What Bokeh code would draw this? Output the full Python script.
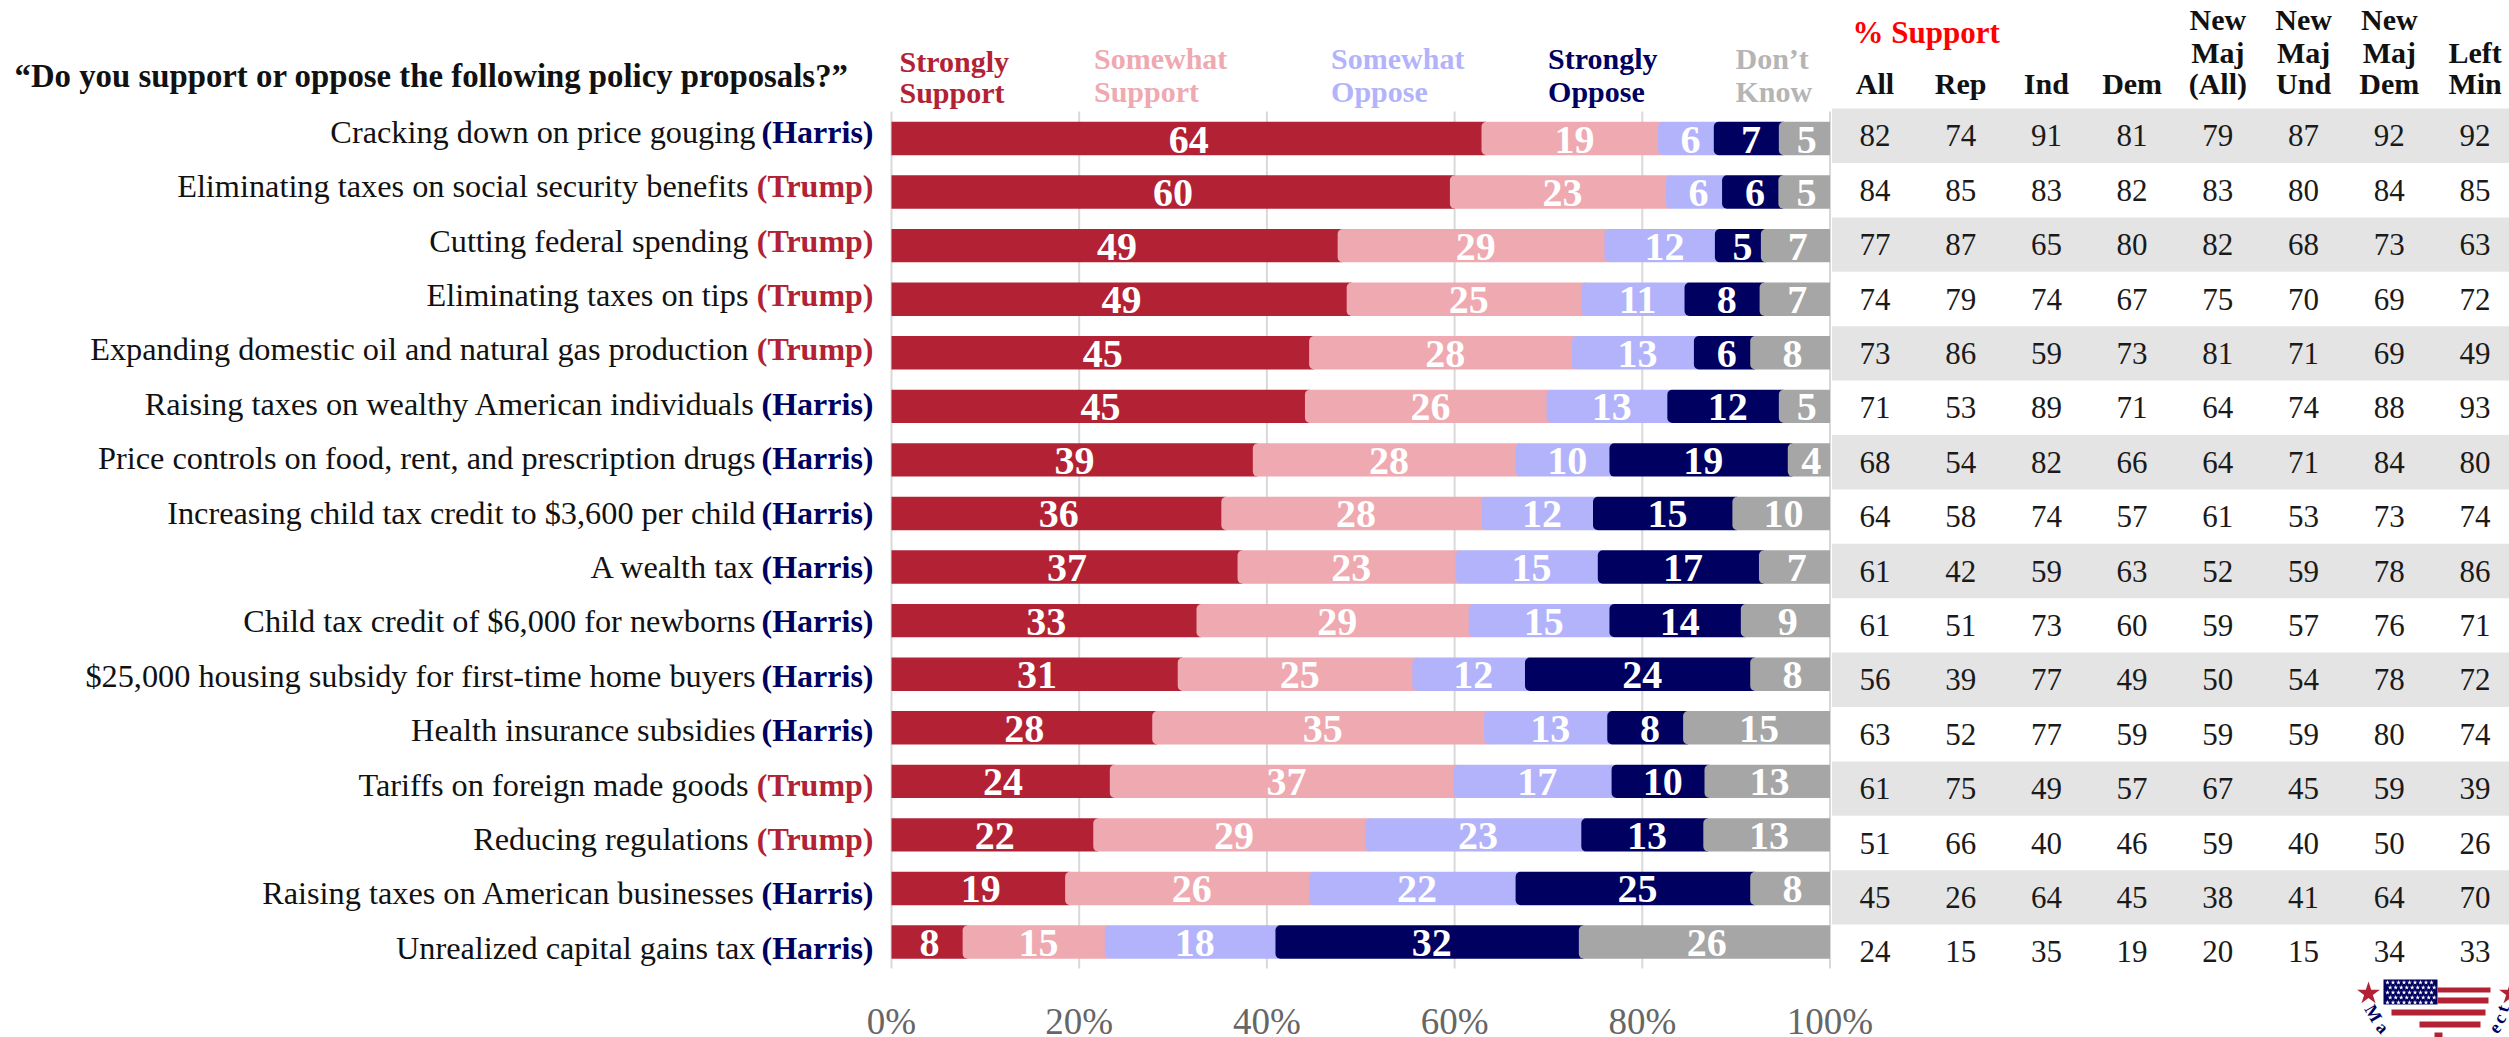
from bokeh.embed import file_html
from bokeh.models import FixedTicker, PrintfTickFormatter, Range1d
from bokeh.plotting import figure
from bokeh.resources import INLINE
from bokeh.core.properties import value

policies = [
    "Cracking down on price gouging",
    "Eliminating taxes on social security benefits",
    "Cutting federal spending",
    "Eliminating taxes on tips",
    "Expanding domestic oil and natural gas production",
    "Raising taxes on wealthy American individuals",
    "Price controls on food, rent, and prescription drugs",
    "Increasing child tax credit to $3,600 per child",
    "A wealth tax",
    "Child tax credit of $6,000 for newborns",
    "$25,000 housing subsidy for first-time home buyers",
    "Health insurance subsidies",
    "Tariffs on foreign made goods",
    "Reducing regulations",
    "Raising taxes on American businesses",
    "Unrealized capital gains tax",
]
sponsors = ["Harris", "Trump", "Trump", "Trump", "Trump", "Harris", "Harris", "Harris",
            "Harris", "Harris", "Harris", "Harris", "Trump", "Trump", "Harris", "Harris"]

strongly_support = [64, 60, 49, 49, 45, 45, 39, 36, 37, 33, 31, 28, 24, 22, 19, 8]
somewhat_support = [19, 23, 29, 25, 28, 26, 28, 28, 23, 29, 25, 35, 37, 29, 26, 15]
somewhat_oppose = [6, 6, 12, 11, 13, 13, 10, 12, 15, 15, 12, 13, 17, 23, 22, 18]
strongly_oppose = [7, 6, 5, 8, 6, 12, 19, 15, 17, 14, 24, 8, 10, 13, 25, 32]
dont_know = [5, 5, 7, 7, 8, 5, 4, 10, 7, 9, 8, 15, 13, 13, 8, 26]

support_all = [82, 84, 77, 74, 73, 71, 68, 64, 61, 61, 56, 63, 61, 51, 45, 24]
support_rep = [74, 85, 87, 79, 86, 53, 54, 58, 42, 51, 39, 52, 75, 66, 26, 15]
support_ind = [91, 83, 65, 74, 59, 89, 82, 74, 59, 73, 77, 77, 49, 40, 64, 35]
support_dem = [81, 82, 80, 67, 73, 71, 66, 57, 63, 60, 49, 59, 57, 46, 45, 19]
support_new_maj = [79, 83, 82, 75, 81, 64, 64, 61, 52, 59, 50, 59, 67, 59, 38, 20]
support_new_und = [87, 80, 68, 70, 71, 74, 71, 53, 59, 57, 54, 59, 45, 40, 41, 15]
support_new_dem = [92, 84, 73, 69, 69, 88, 84, 73, 78, 76, 78, 80, 59, 50, 64, 34]
support_left_min = [92, 85, 63, 72, 49, 93, 80, 74, 86, 71, 72, 74, 39, 26, 70, 33]

column_heads = [
    ["", "", "All"], ["", "", "Rep"], ["", "", "Ind"], ["", "", "Dem"],
    ["New", "Maj", "(All)"], ["New", "Maj", "Und"], ["New", "Maj", "Dem"], ["", "Left", "Min"],
]
legend_heads = [
    ("Strongly", "Support"), ("Somewhat", "Support"), ("Somewhat", "Oppose"),
    ("Strongly", "Oppose"), ("Don’t", "Know"),
]
tick_values = [0, 20, 40, 60, 80, 100]

RED, PINK, LILAC, NAVY, GREY = "#B22234", "#EFA9B0", "#B3B3FB", "#000060", "#A6A6A6"
SERIF = value("Liberation Serif")

W, H = 2509, 1037
X0, X_SCALE = 891.0, 9.385      # pixel of 0 % and pixels per percentage point
ROW0, ROW_STEP = 138.0, 53.57   # bar rows
TAB_ROW0, TAB_ROW_STEP = 135.3, 54.4
TAB_COL0, TAB_COL_STEP = 1874.4, 85.74


def px(x):
    return (x - X0) / X_SCALE


def py(y):
    return (y - ROW0) / ROW_STEP


# The frame fills the whole canvas; the axis is pinned at a fixed height inside it
p = figure(
    width=W, height=H, output_backend="svg", toolbar_location=None,
    x_range=Range1d(px(0), px(W)), y_range=Range1d(py(H), py(0)),
    min_border=0, min_border_left=0, min_border_right=0, min_border_top=0,
    min_border_bottom=0, outline_line_color=None, y_axis_location=None,
)
p.extra_x_ranges["table"] = Range1d((0 - TAB_COL0) / TAB_COL_STEP, (W - TAB_COL0) / TAB_COL_STEP)
p.extra_y_ranges["table"] = Range1d((H - TAB_ROW0) / TAB_ROW_STEP, (0 - TAB_ROW0) / TAB_ROW_STEP)

p.grid.visible = False

ax = p.xaxis[0]
ax.ticker = FixedTicker(ticks=tick_values)
ax.formatter = PrintfTickFormatter(format="%d%%")
ax.fixed_location = py(994)
ax.axis_line_color = None
ax.major_tick_line_color = None
ax.minor_tick_line_color = None
ax.major_label_text_font = "Liberation Serif"
ax.major_label_text_font_size = "37px"
ax.major_label_text_color = "#666666"
ax.major_label_standoff = 0

# Vertical guides at each tick, running from the legend to the last row
p.segment(x0=tick_values, x1=tick_values, y0=py(111), y1=py(968),
          line_color="#D9D9D9", line_width=2, level="underlay")

# Alternating bands behind the support table
rows = list(range(len(policies)))
p.hbar(y=[r for r in rows if r % 2 == 0], left=-0.5, right=8.0, height=1.0,
       x_range_name="table", y_range_name="table", fill_color="#E4E4E4", line_color=None,
       level="underlay")

# Stacked bars, each row scaled to 100 and overlapping slightly at the rounded joins
series = [strongly_support, somewhat_support, somewhat_oppose, strongly_oppose, dont_know]
colours = [RED, PINK, LILAC, NAVY, GREY]
totals = [sum(s[r] for s in series) for r in rows]
cum = [0.0] * len(rows)
label_x, label_y, label_t = [], [], []
for k, (s, colour) in enumerate(zip(series, colours)):
    shares = [s[r] * 100.0 / totals[r] for r in rows]
    lefts = list(cum)
    rights = [a + b for a, b in zip(lefts, shares)]
    drawn_left = [a - (0.5 if k else 0.0) for a in lefts]
    p.hbar(y=rows, left=drawn_left, right=rights, height=33.4 / ROW_STEP,
           fill_color=colour, line_color=None,
           border_radius=(5, 0, 0, 5) if k else 0)
    for r in rows:
        label_x.append((lefts[r] + rights[r]) / 2)
        label_y.append(r)
        label_t.append(str(s[r]))
    cum = rights
p.text(x=label_x, y=label_y, text=label_t, text_font=SERIF, text_font_size="40px",
       text_font_style="bold", text_color="white", text_align="center", text_baseline="middle",
       y_offset=1)

# Policy names with the proposing candidate in colour; these follow the table's row spacing
party_colour = {"Harris": NAVY, "Trump": RED}
party_edge = {"Harris": 755.0, "Trump": 748.0}
p.text(x=[px(party_edge[s]) for s in sponsors], y=rows, y_range_name="table", y_offset=-4,
       text=policies, text_font=SERIF, text_font_size="32.3px", text_color="#111111",
       text_align="right", text_baseline="middle")
p.text(x=[px(873)] * len(rows), y=rows, y_range_name="table", y_offset=-4,
       text=[f"({s})" for s in sponsors], text_font=SERIF,
       text_font_size="32px", text_font_style="bold", text_color=[party_colour[s] for s in sponsors],
       text_align="right", text_baseline="middle")

p.text(x=[px(14)], y=[py(75)], text=["“Do you support or oppose the following policy proposals?”"],
       text_font=SERIF, text_font_size="32.8px", text_font_style="bold", text_color="#111111",
       text_align="left", text_baseline="middle")

# Response legend above the bars
legend_x = [899, 1093.5, 1330.6, 1547.6, 1735]
legend_y = [(61, 92), (58, 91), (58, 91), (58, 91), (58, 91)]
legend_colours = [RED, PINK, LILAC, NAVY, "#B5B5B5"]
for head, lx, ly, c in zip(legend_heads, legend_x, legend_y, legend_colours):
    p.text(x=[px(lx)] * 2, y=[py(ly[0]), py(ly[1])], text=list(head), text_font=SERIF,
           text_font_size="30px", text_font_style="bold", text_color=c,
           text_align="left", text_baseline="middle")

# Support table
table = [support_all, support_rep, support_ind, support_dem,
         support_new_maj, support_new_und, support_new_dem, support_left_min]
for c, col in enumerate(table):
    p.text(x=[c] * len(col), y=rows, text=[str(v) for v in col], x_range_name="table",
           y_range_name="table", text_font=SERIF, text_font_size="31px", text_color="#1A1A1A",
           text_align="center", text_baseline="middle")
    head = column_heads[c]
    keep = [i for i in range(3) if head[i]]
    p.text(x=[c] * len(keep), y=[py([19, 52, 83][i]) for i in keep], text=[head[i] for i in keep],
           x_range_name="table", text_font=SERIF, text_font_size="30px", text_font_style="bold",
           text_color="#111111", text_align="center", text_baseline="middle")

p.text(x=[px(1852)], y=[py(32)], text=["% Support"], text_font=SERIF, text_font_size="31px",
       text_font_style="bold", text_color="#FF0000", text_align="left", text_baseline="middle")

# Emblem in the lower right corner: stars, flag-filled map and lettering on a ring
p.scatter(x=[px(2368), px(2510)], y=[py(993), py(993)], size=24, marker="star",
          fill_color=RED, line_color=None)
p.quad(left=[px(2383)], right=[px(2437)], top=[py(979)], bottom=[py(1004)],
       fill_color=NAVY, line_color=None)
canton_x = [2387 + 5.5 * i + (2.7 if j % 2 else 0) for j in range(5) for i in range(9)]
canton_y = [982 + 5 * j for j in range(5) for i in range(9)]
p.scatter(x=[px(v) for v in canton_x], y=[py(v) for v in canton_y], size=5, marker="star",
          fill_color="white", line_color=None)
stripe_l = [2437, 2437, 2391, 2419, 2434]
stripe_r = [2490, 2488, 2485, 2480, 2442]
stripe_t = [987, 997, 1009, 1021, 1032]
stripe_b = [992, 1003, 1015, 1027, 1037]
p.quad(left=[px(v) for v in stripe_l], right=[px(v) for v in stripe_r],
       top=[py(v) for v in stripe_t], bottom=[py(v) for v in stripe_b],
       fill_color=RED, line_color=None)
p.text(x=[px(2373), px(2382), px(2494), px(2499), px(2502)],
       y=[py(1013), py(1027), py(1027), py(1018), py(1008)],
       text=["M", "a", "e", "c", "t"], angle=[-1.05, -0.8, 0.85, 1.05, 1.25], text_font=SERIF,
       text_font_size="18px", text_font_style="bold", text_color=NAVY,
       text_align="center", text_baseline="middle")

open("out.html", "w").write(file_html(p, INLINE))
